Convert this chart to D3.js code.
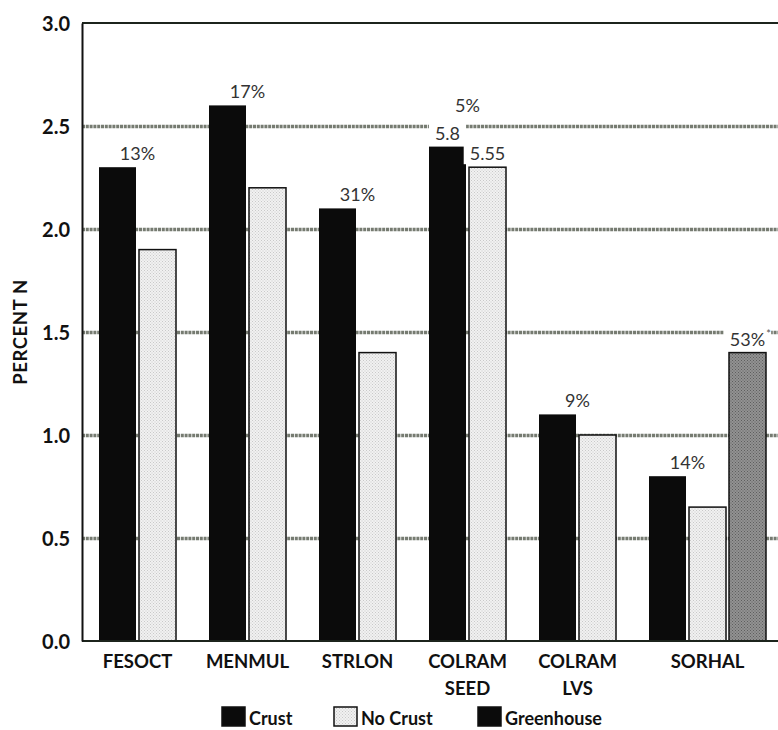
<!DOCTYPE html>
<html><head><meta charset="utf-8">
<script src="https://cdn.jsdelivr.net/npm/d3@7"></script>
<style>
html,body{margin:0;padding:0;background:#fff;}
svg{display:block;}
</style></head>
<body>
<svg id="chart" width="778" height="730"></svg>
<script>
const categories = ["FESOCT","MENMUL","STRLON","COLRAM SEED","COLRAM LVS","SORHAL"];
const seriesNames = ["Crust","No Crust","Greenhouse"];
const crustValues = [2.3, 2.6, 2.1, 2.4, 1.1, 0.8];
const noCrustValues = [1.9, 2.2, 1.4, 2.3, 1.0, 0.65];
const greenhouseValues = [null, null, null, null, null, 1.4];
const yTicks = [0, 0.5, 1.0, 1.5, 2.0, 2.5, 3.0];
const annotations = [
  {cat:"FESOCT", at:"pair", text:"13%"},
  {cat:"MENMUL", at:"pair", text:"17%"},
  {cat:"STRLON", at:"pair", text:"31%"},
  {cat:"COLRAM SEED", at:"pair", text:"5%", level:2},
  {cat:"COLRAM SEED", at:"Crust", text:"5.8"},
  {cat:"COLRAM SEED", at:"No Crust", text:"5.55"},
  {cat:"COLRAM LVS", at:"pair", text:"9%"},
  {cat:"SORHAL", at:"pair", text:"14%"},
  {cat:"SORHAL", at:"Greenhouse", text:"53%", mark:"*"}
];

const valuesBySeries = {"Crust": crustValues, "No Crust": noCrustValues, "Greenhouse": greenhouseValues};
const fills = {"Crust":"#0b0b0b", "No Crust":"url(#stipLight)", "Greenhouse":"url(#stipGray)"};
const legendFills = {"Crust":"#0b0b0b", "No Crust":"url(#stipLight)", "Greenhouse":"#0b0b0b"};

const svg = d3.select("#chart");
const W = 778, H = 730;
const plot = {left:82, top:23, right:778, bottom:641};
const font = "Lato, 'Noto Sans', sans-serif";

svg.append("rect").attr("width",W).attr("height",H).attr("fill","#fff");

const defs = svg.append("defs");
function stipple(id, base, dot){
  const p = defs.append("pattern").attr("id",id).attr("patternUnits","userSpaceOnUse")
    .attr("width",3).attr("height",3);
  p.append("rect").attr("width",3).attr("height",3).attr("fill",base);
  p.append("rect").attr("x",0).attr("y",0).attr("width",1).attr("height",1).attr("fill",dot);
  p.append("rect").attr("x",1.5).attr("y",1.5).attr("width",1).attr("height",1).attr("fill",dot);
}
stipple("stipLight","#f1f1f1","#c9c9c9");
stipple("stipGray","#929292","#5e5e5e");

const y = d3.scaleLinear().domain([0,3]).range([plot.bottom, plot.top]);
const x0 = d3.scaleBand().domain(categories).range([99, 99+110*categories.length]).paddingInner(0).paddingOuter(0);
const x1 = d3.scaleBand().domain(seriesNames).range([0,117]).paddingInner(0.075).paddingOuter(0);

// gridlines
const grid = svg.append("g").attr("transform",`translate(${plot.left},0)`)
  .call(d3.axisLeft(y).tickValues(yTicks.filter(v=>v>0 && v<3)).tickSize(-(plot.right-plot.left)).tickFormat(""));
grid.select(".domain").remove();
grid.selectAll(".tick line").attr("stroke","#767b71").attr("stroke-width",3.5).attr("stroke-dasharray","3,0.8");

// bars
const bars = [];
categories.forEach((c,i)=>{
  seriesNames.forEach(s=>{
    const v = valuesBySeries[s][i];
    if(v!=null) bars.push({cat:c, series:s, value:v});
  });
});
svg.append("g").selectAll("rect").data(bars).join("rect")
  .attr("x", d=>x0(d.cat)+x1(d.series))
  .attr("y", d=>y(d.value))
  .attr("width", x1.bandwidth())
  .attr("height", d=>y(0)-y(d.value))
  .attr("fill", d=>fills[d.series])
  .attr("stroke", "#111").attr("stroke-width", d=>d.series==="Crust"?0:1.5);

// frame: top line, bottom axis
svg.append("line").attr("x1",plot.left).attr("x2",plot.right).attr("y1",y(3)).attr("y2",y(3))
  .attr("stroke","#1c241c").attr("stroke-width",2);
svg.append("line").attr("x1",plot.left).attr("x2",plot.right).attr("y1",y(0)).attr("y2",y(0))
  .attr("stroke","#1c241c").attr("stroke-width",2);

const yAxis = svg.append("g").attr("transform",`translate(${plot.left},0)`)
  .call(d3.axisLeft(y).tickValues(yTicks).tickSize(0).tickPadding(12).tickFormat(d3.format(".1f")));
yAxis.select(".domain").attr("stroke","#111").attr("stroke-width",2);
yAxis.selectAll(".tick text").attr("font-family",font).attr("font-weight","bold")
  .attr("font-size",20).attr("fill","#111").attr("dy","0.36em");

// y title
svg.append("text").attr("transform",`translate(27,332) rotate(-90)`)
  .attr("text-anchor","middle").attr("font-family",font).attr("font-weight","bold")
  .attr("font-size",18.5).attr("letter-spacing",0.6).attr("fill","#111").text("PERCENT N");

// group centers
function present(c){ const i = categories.indexOf(c); return seriesNames.filter(s=>valuesBySeries[s][i]!=null); }
function groupCenter(c){ const ss = present(c); return x0(c) + (x1(ss[0]) + x1(ss[ss.length-1]) + x1.bandwidth())/2; }
function pairCenter(c){ return x0(c) + (x1("Crust") + x1("No Crust") + x1.bandwidth())/2; }

// category labels
const catG = svg.append("g");
categories.forEach(c=>{
  const t = catG.append("text").attr("text-anchor","middle").attr("font-family",font)
    .attr("font-weight","bold").attr("font-size",18.5).attr("fill","#111");
  c.split(" ").forEach((line,k)=>{
    t.append("tspan").attr("x",groupCenter(c)).attr("y",y(0)+27+k*27).text(line);
  });
});

// annotations
const annG = svg.append("g");
annotations.forEach(a=>{
  const i = categories.indexOf(a.cat);
  let cx, top;
  if(a.at==="pair"){ cx = pairCenter(a.cat); top = y(Math.max(crustValues[i], noCrustValues[i])); }
  else { cx = x0(a.cat)+x1(a.at)+x1.bandwidth()/2; top = y(valuesBySeries[a.at][i]); }
  let by = top - 7;
  if(a.level===2) by = y(crustValues[i]) - 7 - 28;
  const g = annG.append("g");
  const bg = g.append("rect").attr("fill","#fff");
  const t = g.append("text").attr("x",cx).attr("y",by).attr("text-anchor","middle")
    .attr("font-family",font).attr("font-size",18).attr("fill","#333").text(a.text);
  const bb = t.node().getBBox();
  bg.attr("x",bb.x-6).attr("y",bb.y).attr("width",bb.width+12).attr("height",bb.height);
  if(a.mark){
    g.append("text").attr("x",bb.x+bb.width+1).attr("y",by-8).attr("font-family",font)
      .attr("font-size",11).attr("fill","#555").text(a.mark);
  }
});

// legend
const legendItems = [
  {name:"Crust", x:222},
  {name:"No Crust", x:334},
  {name:"Greenhouse", x:478}
];
const lg = svg.append("g");
legendItems.forEach(it=>{
  lg.append("rect").attr("x",it.x).attr("y",707).attr("width",23).attr("height",19)
    .attr("fill",legendFills[it.name]).attr("stroke","#111").attr("stroke-width",1.5);
  lg.append("text").attr("x",it.x+27).attr("y",725).attr("font-family",font)
    .attr("font-size",18).attr("font-weight","bold").attr("fill","#111").text(it.name);
});
</script>
</body></html>
